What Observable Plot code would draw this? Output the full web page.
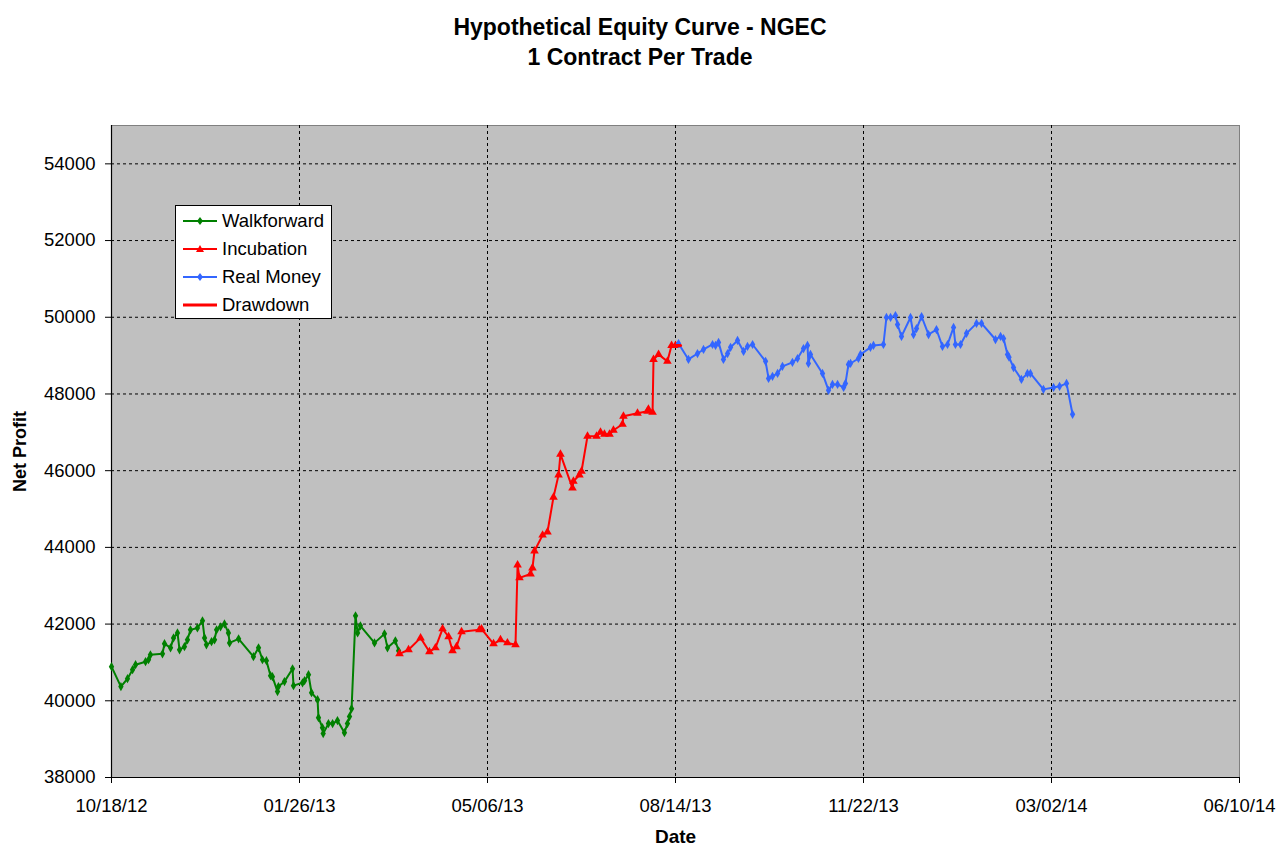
<!DOCTYPE html>
<html>
<head>
<meta charset="utf-8">
<script src="https://cdn.jsdelivr.net/npm/d3@7"></script>
<script src="https://cdn.jsdelivr.net/npm/@observablehq/plot@0.6"></script>
<style>
  html, body { margin: 0; padding: 0; background: #fff; }
  body { width: 1280px; height: 845px; position: relative; overflow: hidden;
         font-family: "Liberation Sans", Arial, sans-serif; }
  #title { height: 90px; text-align: center; font-weight: bold; font-size: 23px;
           line-height: 30px; padding-top: 12px; box-sizing: border-box; color: #000; }
  #legend { position: absolute; left: 175px; top: 205px; width: 157px; height: 114px;
            box-sizing: border-box; border: 1px solid #000; background: #fff; }
  .row { position: absolute; left: 0; height: 28px; width: 155px; }
  .row svg { position: absolute; left: 7px; top: 4px; }
  .row span { position: absolute; left: 46px; top: 3px; font-size: 18.5px; line-height: 22px; color: #000; }
</style>
</head>
<body>
<div id="title">Hypothetical Equity Curve - NGEC<br>1 Contract Per Trade</div>
<div id="chart"></div>
<div id="legend"></div>
<script>
// Day offsets after 10/18/12 and net profit
const startDate = "2012-10-18";
const walkforwardDays = [0,5,8.5,11.2,12.8,18.1,19.7,20.7,27.1,28.2,31.4,33,35.1,36.2,38.8,40.4,42,45.7,48.4,49.5,50.5,53.2,54.8,55.9,58,60.1,62.2,62.8,67.6,75.5,78.2,80.3,82.4,84.6,85.6,88.3,88.8,92,96.3,96.8,101.6,102.7,104.8,106.4,109.6,110.1,112.2,112.6,115.4,117.6,120.2,123.9,125.5,126.6,127.7,129.8,130.9,132.4,139.9,145.2,146.8,151,152.7];
const walkforwardProfit = [40890,40370,40575,40810,40940,41020,41070,41200,41225,41490,41380,41640,41770,41330,41410,41590,41850,41900,42085,41640,41460,41540,41590,41850,41930,42005,41770,41510,41615,41150,41380,41070,41045,40655,40630,40240,40370,40500,40835,40395,40470,40525,40680,40210,40030,39560,39300,39145,39405,39405,39485,39170,39405,39590,39795,42215,41770,41955,41510,41745,41380,41565,41305];
const incubationDays = [153.2,158,164.4,169.1,172.3,176.1,179.3,181.4,183.5,186.2,195.7,196.8,203.2,206.9,210.6,214.9,216,217,222.9,223.9,225,229.3,231.9,235.1,237.8,238.8,245.2,245.7,248.9,250,253.2,258,260.1,262.2,264.9,267,271.8,272.3,279.8,285.1,285.6,287.8,288.3,291,295.7,297.9,300];
const incubationProfit = [41225,41330,41640,41280,41380,41875,41670,41305,41410,41800,41850,41875,41485,41590,41510,41460,43540,43205,43305,43465,43905,44320,44400,45310,45885,46430,45545,45725,45885,45985,46900,46900,47000,46950,46950,47055,47210,47420,47495,47550,47600,47520,48900,49030,48850,49265,49265];
const drawdownDays = [297.9,300,302.7];
const drawdownProfit = [49265,49265,49265];
const realMoneyDays = [301.6,306.9,311.7,314.9,319.7,321.3,322.9,325.5,327.7,329.3,333,336.2,338.3,341,347.9,349.5,351.6,354.3,356.9,362.2,364.9,368.1,370.2,370.7,371.8,378.2,381.4,383.5,386.2,389.4,390.4,392,393.1,397.3,398.4,403.7,405.3,410.6,412.2,414.4,417,418.1,420.2,425,426.6,428.2,430.9,434.6,438.8,442,444.7,447.9,448.9,451.6,454.8,460.1,462.8,470.2,472.9,474.5,476.6,477.4,479.8,484,487.2,488.8,495.7,501.1,504.3,508,511.2];
const realMoneyProfit = [49315,48900,49055,49160,49290,49265,49345,48900,49055,49215,49395,49110,49240,49290,48850,48405,48460,48535,48720,48825,48925,49185,49265,48795,49030,48535,48095,48250,48250,48170,48275,48770,48795,48925,49030,49215,49265,49290,49995,49995,50045,49810,49500,49995,49550,49705,50020,49550,49680,49240,49290,49735,49290,49290,49580,49840,49840,49420,49500,49445,49030,48960,48690,48380,48535,48535,48120,48170,48200,48275,47470];
const xTickLabels = ["10/18/12","01/26/13","05/06/13","08/14/13","11/22/13","03/02/14","06/10/14"];
const yTicks = [38000,40000,42000,44000,46000,48000,50000,52000,54000];
const yDomain = [38000, 55000];

const seriesNames = ["Walkforward","Incubation","Real Money","Drawdown"];
const colors = {Walkforward:"#008000", Incubation:"#ff0000", "Real Money":"#3366ff", Drawdown:"#ff0000"};

const t0 = Date.parse(startDate + "T00:00:00Z");
const toDate = d => new Date(t0 + d * 864e5);
const parseTick = s => { const [m, d, y] = s.split("/").map(Number); return new Date(Date.UTC(2000 + y, m - 1, d)); };
const xTicks = xTickLabels.map(parseTick);
const fmt = d3.utcFormat("%m/%d/%y");

const build = (days, vals) => days.map((d, i) => ({date: toDate(d), value: vals[i]}));
const wf = build(walkforwardDays, walkforwardProfit);
const inc = build(incubationDays, incubationProfit);
const dd = build(drawdownDays, drawdownProfit);
const rm = build(realMoneyDays, realMoneyProfit);

const dash = {stroke: "#000", strokeWidth: 1, strokeDasharray: "3,3"};

const chart = Plot.plot({
  width: 1280,
  height: 755,
  marginLeft: 111,
  marginRight: 41,
  marginTop: 35,
  marginBottom: 68,
  style: {fontFamily: '"Liberation Sans", Arial, sans-serif', fontSize: "18px", color: "#000", background: "#fff"},
  x: {type: "utc", domain: [xTicks[0], xTicks[xTicks.length - 1]]},
  y: {domain: yDomain},
  marks: [
    Plot.frame({fill: "#c0c0c0", stroke: "#808080"}),
    Plot.ruleY(yTicks.slice(1), {...dash}),
    Plot.ruleX(xTicks.slice(1, -1), {...dash}),
    Plot.ruleX([xTicks[0]], {stroke: "#000", strokeWidth: 1.2}),
    Plot.ruleY([yDomain[0]], {stroke: "#000", strokeWidth: 1.2}),
    Plot.axisY({ticks: yTicks, tickSize: 6, tickPadding: 10, tickFormat: d3.format("d"), label: null, fontSize: 18.5}),
    Plot.axisX({ticks: xTicks, tickSize: 6, tickPadding: 15, tickFormat: fmt, label: null, fontSize: 18.5}),
    Plot.text(["Net Profit"], {frameAnchor: "left", textAnchor: "middle", dx: -91, rotate: -90, fontWeight: "bold", fontSize: 18}),
    Plot.text(["Date"], {frameAnchor: "bottom", textAnchor: "middle", dy: 65, fontWeight: "bold", fontSize: 19}),
    Plot.line(wf, {x: "date", y: "value", stroke: colors.Walkforward, strokeWidth: 2}),
    Plot.dot(wf, {x: "date", y: "value", symbol: "diamond", r: 2.8, fill: colors.Walkforward, stroke: null}),
    Plot.line(inc, {x: "date", y: "value", stroke: colors.Incubation, strokeWidth: 2}),
    Plot.dot(inc, {x: "date", y: "value", symbol: "triangle", r: 3.2, fill: colors.Incubation, stroke: null}),
    Plot.line(rm, {x: "date", y: "value", stroke: colors["Real Money"], strokeWidth: 2}),
    Plot.dot(rm, {x: "date", y: "value", symbol: "diamond", r: 2.8, fill: colors["Real Money"], stroke: null}),
    Plot.line(dd, {x: "date", y: "value", stroke: colors.Drawdown, strokeWidth: 3})
  ]
});
document.getElementById("chart").appendChild(chart);

// Legend
const legend = document.getElementById("legend");
const symbolsSvg = {
  Walkforward: '<polygon points="17,6 20,10 17,14 14,10" fill="#008000"/>',
  Incubation: '<polygon points="17,6 21,13 13,13" fill="#ff0000"/>',
  "Real Money": '<polygon points="17,6 20,10 17,14 14,10" fill="#3366ff"/>',
  Drawdown: '<rect x="15" y="9" width="4" height="2" fill="#ff0000"/>'
};
seriesNames.forEach((name, i) => {
  const row = document.createElement("div");
  row.className = "row";
  row.style.top = (i * 28 + 1) + "px";
  const w = name === "Drawdown" ? 3 : 2;
  row.innerHTML = `<svg width="36" height="20"><line x1="0" x2="34" y1="10" y2="10" stroke="${colors[name]}" stroke-width="${w}"/>${symbolsSvg[name]}</svg><span>${name}</span>`;
  legend.appendChild(row);
});
</script>
</body>
</html>
